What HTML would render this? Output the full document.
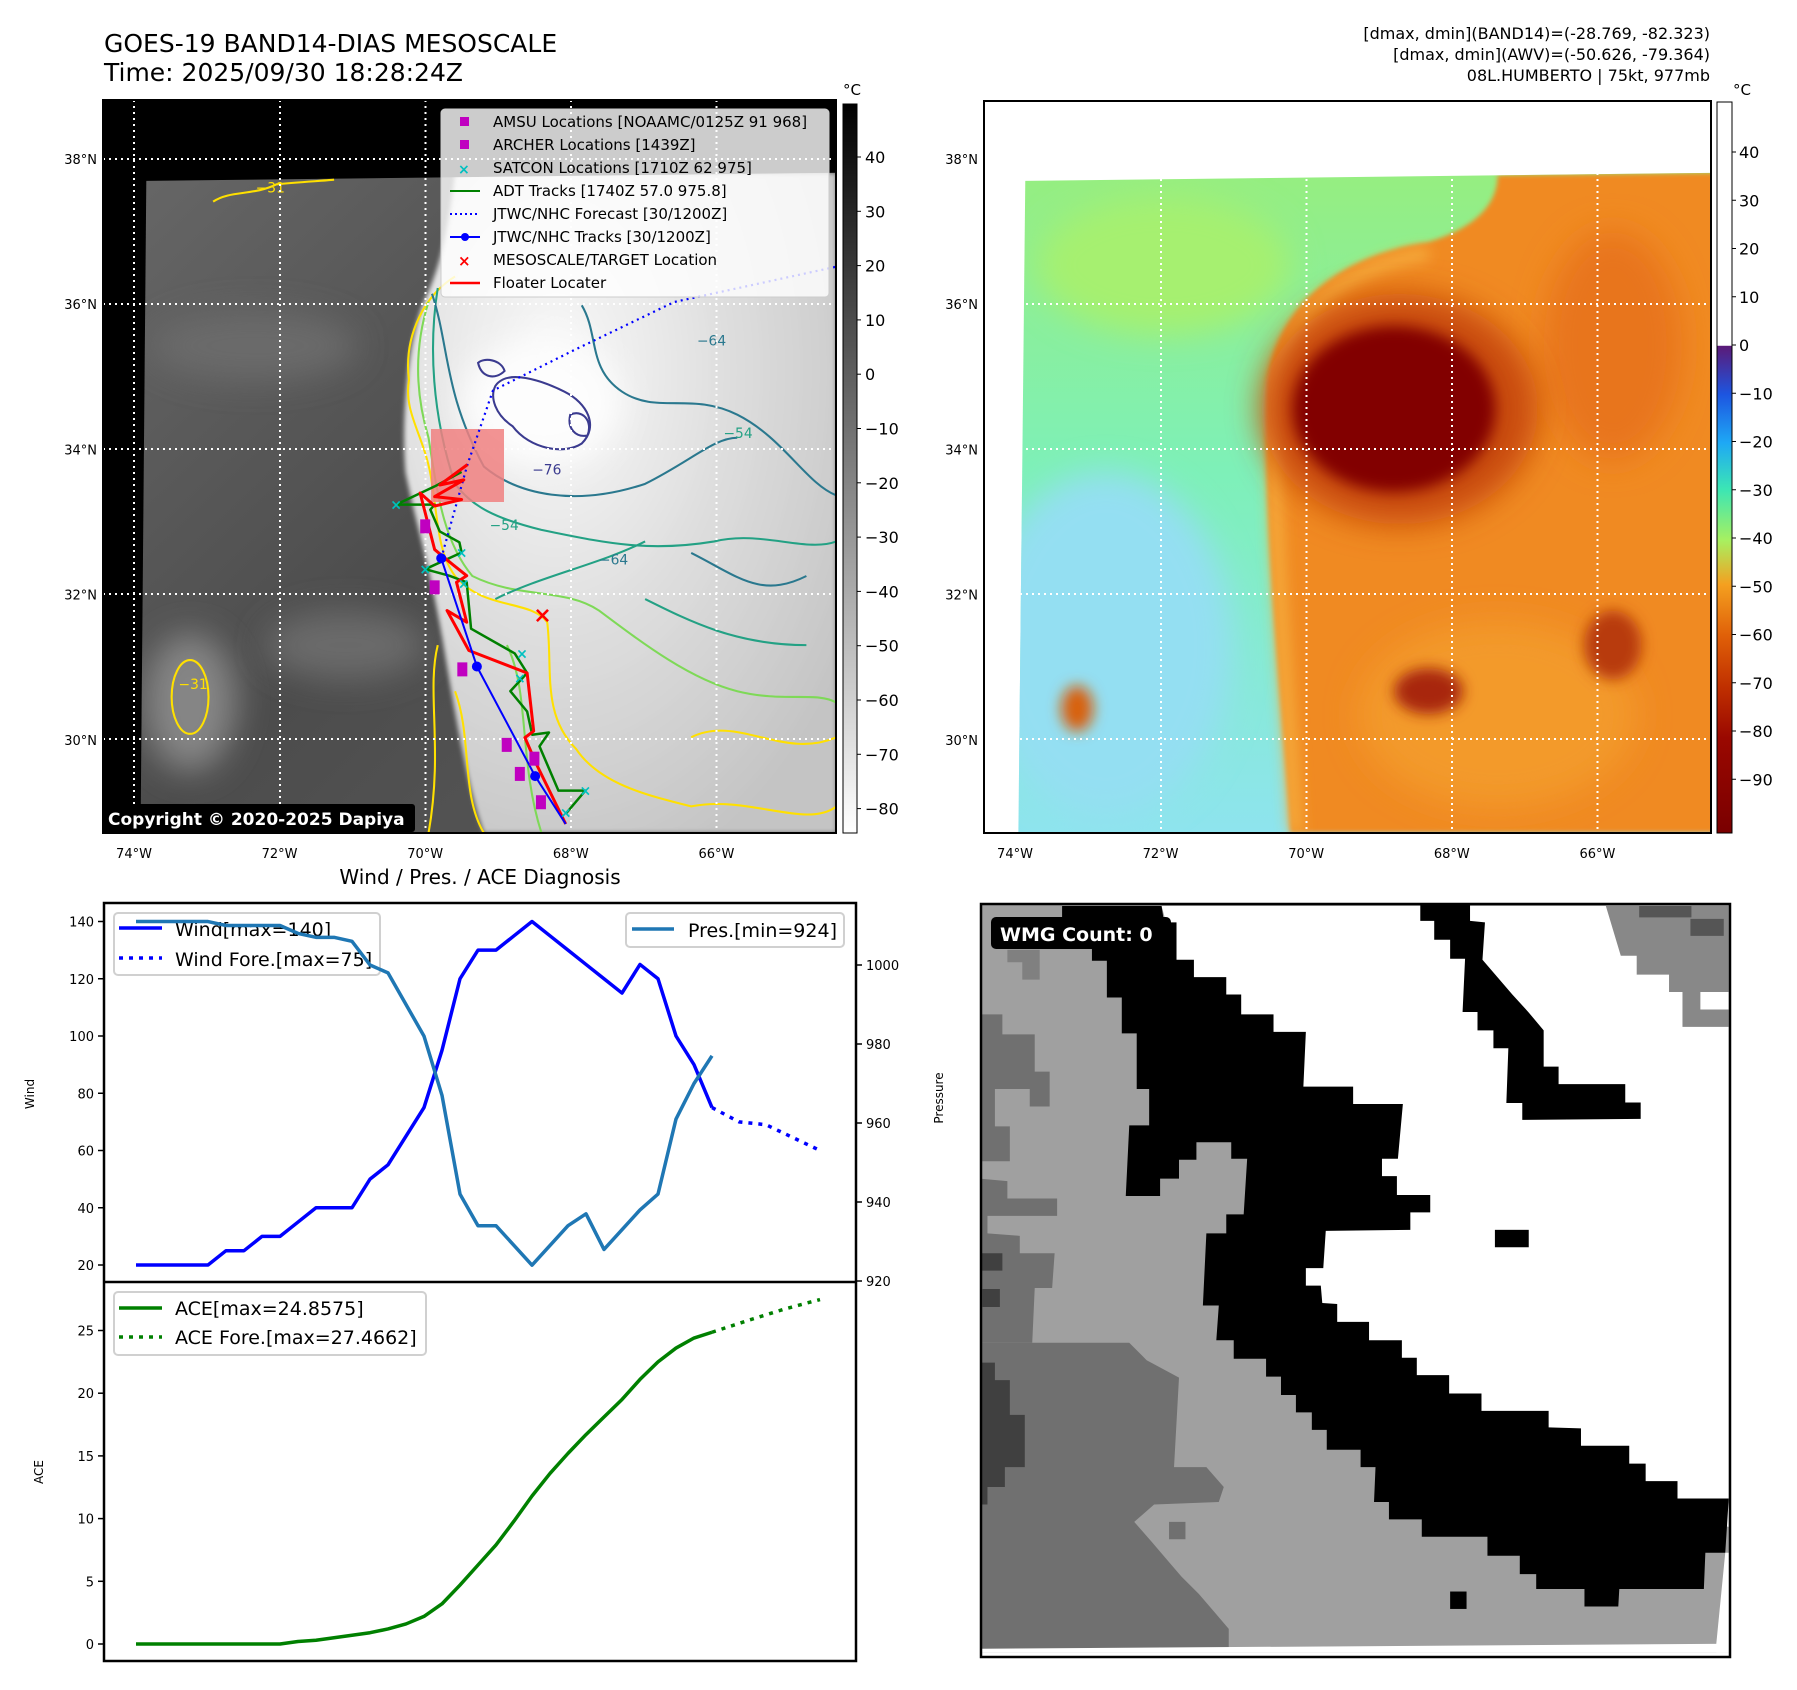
<!DOCTYPE html>
<html><head><meta charset="utf-8">
<style>
html,body{margin:0;padding:0;background:#fff;}
svg{display:block;font-family:"DejaVu Sans","Liberation Sans",sans-serif;}
</style></head>
<body>
<svg id="fig" width="1797" height="1690" viewBox="0 0 1797 1690" xmlns="http://www.w3.org/2000/svg">
<defs>
<filter id="b2" x="-50%" y="-50%" width="200%" height="200%"><feGaussianBlur stdDeviation="2"/></filter>
<filter id="b6" x="-50%" y="-50%" width="200%" height="200%"><feGaussianBlur stdDeviation="6"/></filter>
<filter id="b14" x="-50%" y="-50%" width="200%" height="200%"><feGaussianBlur stdDeviation="14"/></filter>
<linearGradient id="cbGray" x1="0" y1="0" x2="0" y2="1"><stop offset="0" stop-color="#000"/><stop offset="1" stop-color="#fff"/></linearGradient>
<linearGradient id="cbColor" x1="0" y1="0" x2="0" y2="1">
<stop offset="0" stop-color="#fff"/><stop offset="0.333" stop-color="#fff"/>
<stop offset="0.334" stop-color="#5b1a78"/><stop offset="0.40" stop-color="#1d55e0"/>
<stop offset="0.466" stop-color="#1ea8f5"/><stop offset="0.53" stop-color="#3ce6b4"/>
<stop offset="0.60" stop-color="#a8f060"/><stop offset="0.66" stop-color="#f4a020"/>
<stop offset="0.73" stop-color="#e06008"/><stop offset="0.80" stop-color="#c03000"/>
<stop offset="0.87" stop-color="#9a0800"/><stop offset="1" stop-color="#7a0000"/></linearGradient>
<linearGradient id="irL" x1="0" y1="0" x2="1" y2="1"><stop offset="0" stop-color="#666"/><stop offset="0.5" stop-color="#4c4c4c"/><stop offset="1" stop-color="#5a5a5a"/></linearGradient>
<radialGradient id="cloudG" cx="0.35" cy="0.3" r="0.8"><stop offset="0" stop-color="#fafafa"/><stop offset="0.5" stop-color="#dedede"/><stop offset="1" stop-color="#c4c4c4"/></radialGradient>
<linearGradient id="rBase" x1="0" y1="0" x2="0" y2="1"><stop offset="0" stop-color="#96ee80"/><stop offset="0.45" stop-color="#7ef0b8"/><stop offset="1" stop-color="#8ee4ee"/></linearGradient>
<clipPath id="clipL"><rect x="103" y="100" width="733" height="733"/></clipPath>
<clipPath id="clipR"><rect x="984" y="101" width="727" height="732"/></clipPath>
<clipPath id="clipW"><rect x="981" y="904" width="749" height="753"/></clipPath>
<clipPath id="imgL"><polygon points="127,157 726,150 726,723 122,723"/></clipPath>
<clipPath id="imgR"><polygon points="890,157 1489,150 1489,723 884,723"/></clipPath>
</defs>
<rect width="1797" height="1690" fill="#fff"/>

<text x="104" y="52" font-size="25">GOES-19 BAND14-DIAS MESOSCALE</text>
<text x="104" y="81" font-size="25">Time: 2025/09/30 18:28:24Z</text>
<g font-size="16" text-anchor="end">
<text x="1710" y="39">[dmax, dmin](BAND14)=(-28.769, -82.323)</text>
<text x="1710" y="60">[dmax, dmin](AWV)=(-50.626, -79.364)</text>
<text x="1710" y="81">08L.HUMBERTO | 75kt, 977mb</text>
</g>

<!-- LEFT MAP -->
<g clip-path="url(#clipL)">
<rect x="103" y="100" width="733" height="733" fill="#000"/>
<g transform="scale(1.152)">
<polygon points="127,157 726,150 726,723 122,723" fill="url(#irL)"/>
<g clip-path="url(#imgL)">
<ellipse cx="165" cy="610" rx="40" ry="60" fill="#858585" filter="url(#b14)"/>
<ellipse cx="300" cy="560" rx="70" ry="30" fill="#6a6a6a" filter="url(#b14)"/>
<ellipse cx="220" cy="300" rx="90" ry="30" fill="#6a6a6a" filter="url(#b14)"/>
<path d="M395,150 L726,150 L726,723 L420,723 C405,680 395,620 385,560 C375,500 360,450 352,410 C348,360 355,300 365,270 C372,250 385,235 395,150 Z" fill="url(#cloudG)" filter="url(#b2)"/>
<ellipse cx="470" cy="350" rx="70" ry="55" fill="#fdfdfd" filter="url(#b14)"/>
</g>
<g fill="none" stroke-width="1.8">
<path d="M395,240 C370,255 350,290 355,330 C350,360 370,380 375,420 C380,450 380,480 395,500 C420,530 460,520 475,540 C480,580 470,620 500,650 C520,680 560,690 600,700 C650,690 700,720 726,700" stroke="#ffe000"/>
<path d="M380,560 C370,600 385,650 372,723 M395,600 C410,640 400,690 420,723 M185,175 C200,165 220,170 240,160 C260,158 280,157 290,156 M600,640 C640,620 680,660 726,640" stroke="#ffe000"/>
<ellipse cx="165" cy="605" rx="16" ry="32" stroke="#ffe000"/>
<path d="M372,262 C360,300 360,340 372,380 C380,430 385,470 410,500 C450,520 490,510 520,530 C560,560 600,590 640,600 C680,610 710,600 726,610 M440,560 C460,600 450,660 470,723" stroke="#7ed957"/>
<path d="M380,250 C372,300 375,360 395,420 C410,440 430,450 470,460 C520,470 560,480 620,470 C660,460 700,480 726,470 M430,520 C470,500 520,490 560,470 M560,520 C600,540 640,560 700,560" stroke="#23a184"/>
<path d="M375,255 C390,300 385,340 420,405 C450,430 500,440 560,420 C600,400 620,380 640,380 M505,265 C520,290 510,320 540,340 C570,360 600,340 640,360 C680,380 700,420 726,430 M600,480 C640,500 660,520 700,500" stroke="#2a788e"/>
<path d="M430,335 C440,320 470,330 490,340 C510,350 520,370 505,385 C490,395 460,390 445,370 C430,360 425,345 430,335 Z M415,315 C420,310 435,312 438,322 C430,330 418,328 415,315 Z M495,360 C505,355 515,365 510,378 C500,380 492,372 495,360 Z" stroke="#3b3b8f"/>
</g>
<g font-size="12">
<text x="222" y="167" fill="#ffe000">−31</text>
<text x="155" y="598" fill="#ffe000">−31</text>
<text x="425" y="460" fill="#23a184">−54</text>
<text x="628" y="380" fill="#23a184">−54</text>
<text x="520" y="490" fill="#2a788e">−64</text>
<text x="605" y="300" fill="#2a788e">−64</text>
<text x="462" y="412" fill="#3b3b8f">−76</text>
</g>
</g>
<g stroke="#fff" stroke-width="2" stroke-dasharray="2,4">
<line x1="134" y1="100" x2="134" y2="833"/><line x1="280" y1="100" x2="280" y2="833"/><line x1="425.5" y1="100" x2="425.5" y2="833"/><line x1="571" y1="100" x2="571" y2="833"/><line x1="716.5" y1="100" x2="716.5" y2="833"/>
<line x1="103" y1="159" x2="836" y2="159"/><line x1="103" y1="304" x2="836" y2="304"/><line x1="103" y1="449" x2="836" y2="449"/><line x1="103" y1="594" x2="836" y2="594"/><line x1="103" y1="739" x2="836" y2="739"/>
</g>
<rect x="431" y="429" width="73" height="73" fill="#f08080" opacity="0.85"/>
<g id="tracks"></g>
</g>
<rect x="103" y="100" width="733" height="733" fill="none" stroke="#000" stroke-width="2"/>
<g>
<rect x="441" y="109" width="388" height="188" rx="4" fill="#fff" fill-opacity="0.8" stroke="#ccc"/>
<g font-size="15">
<rect x="460" y="117" width="9" height="9" fill="#c000c0"/><text x="493" y="127">AMSU Locations [NOAAMC/0125Z 91 968]</text>
<rect x="460" y="140" width="9" height="9" fill="#c000c0"/><text x="493" y="150">ARCHER Locations [1439Z]</text>
<text x="458" y="174" fill="#00c0c0" font-size="14" font-weight="bold">×</text><text x="493" y="173">SATCON Locations [1710Z 62 975]</text>
<line x1="450" y1="191" x2="480" y2="191" stroke="#008000" stroke-width="2"/><text x="493" y="196">ADT Tracks [1740Z 57.0 975.8]</text>
<line x1="450" y1="214" x2="480" y2="214" stroke="#0000ff" stroke-width="2" stroke-dasharray="2,3"/><text x="493" y="219">JTWC/NHC Forecast [30/1200Z]</text>
<line x1="450" y1="237" x2="480" y2="237" stroke="#0000ff" stroke-width="2"/><circle cx="465" cy="237" r="4" fill="#0000ff"/><text x="493" y="242">JTWC/NHC Tracks [30/1200Z]</text>
<text x="458" y="266" fill="#ff0000" font-size="15" font-weight="bold">×</text><text x="493" y="265">MESOSCALE/TARGET Location</text>
<line x1="450" y1="283" x2="480" y2="283" stroke="#ff0000" stroke-width="2.5"/><text x="493" y="288">Floater Locater</text>
</g></g>
<g>
<rect x="102" y="804" width="313" height="28" rx="3" fill="#000"/>
<text x="108" y="825" fill="#fff" font-size="17" font-weight="bold">Copyright © 2020-2025 Dapiya</text>
</g>
<g>
<rect x="843" y="104" width="14" height="729" fill="url(#cbGray)" stroke="#000" stroke-width="1"/>
<text x="852" y="95" font-size="15" text-anchor="middle">°C</text>
<g id="cbLticks" font-size="16"></g>
</g>

<!-- RIGHT MAP -->
<g clip-path="url(#clipR)">
<rect x="984" y="101" width="727" height="732" fill="#fff"/>
<g transform="scale(1.152)">
<polygon points="890,157 1489,150 1489,723 884,723" fill="url(#rBase)"/>
<g clip-path="url(#imgR)">
<ellipse cx="960" cy="560" rx="110" ry="150" fill="#94dff2" filter="url(#b14)"/>
<ellipse cx="1010" cy="230" rx="110" ry="60" fill="#a6f070" filter="url(#b14)"/>
<path d="M1120,723 C1112,600 1095,450 1100,330 C1110,260 1170,220 1240,210 C1290,195 1300,170 1300,152 L1489,150 L1489,723 Z" fill="#f08a20" filter="url(#b2)"/>
<path d="M1125,723 C1118,600 1102,450 1108,330 C1118,270 1175,230 1240,220" fill="none" stroke="#f6b040" stroke-width="10" filter="url(#b6)"/>
<ellipse cx="1400" cy="300" rx="60" ry="100" fill="#e8741a" filter="url(#b14)"/>
<ellipse cx="1300" cy="620" rx="120" ry="80" fill="#f39a2a" filter="url(#b14)"/>
<ellipse cx="1215" cy="355" rx="120" ry="100" fill="#c84a0a" filter="url(#b14)"/>
<ellipse cx="1210" cy="355" rx="88" ry="72" fill="#820000" filter="url(#b6)"/>
<ellipse cx="1240" cy="600" rx="30" ry="20" fill="#a82808" filter="url(#b6)"/>
<ellipse cx="1400" cy="560" rx="25" ry="30" fill="#b83a0a" filter="url(#b6)"/>
<ellipse cx="935" cy="615" rx="14" ry="20" fill="#d86010" filter="url(#b6)"/>
</g>
</g>
<g stroke="#fff" stroke-width="2" stroke-dasharray="2,4">
<line x1="1015" y1="101" x2="1015" y2="833"/><line x1="1161" y1="101" x2="1161" y2="833"/><line x1="1306.5" y1="101" x2="1306.5" y2="833"/><line x1="1452" y1="101" x2="1452" y2="833"/><line x1="1597.5" y1="101" x2="1597.5" y2="833"/>
<line x1="984" y1="159" x2="1711" y2="159"/><line x1="984" y1="304" x2="1711" y2="304"/><line x1="984" y1="449" x2="1711" y2="449"/><line x1="984" y1="594" x2="1711" y2="594"/><line x1="984" y1="739" x2="1711" y2="739"/>
</g>
</g>
<rect x="984" y="101" width="727" height="732" fill="none" stroke="#000" stroke-width="2"/>
<g>
<rect x="1717" y="102" width="15" height="731" fill="url(#cbColor)" stroke="#000" stroke-width="1"/>
<text x="1742" y="95" font-size="15" text-anchor="middle">°C</text>
<g id="cbRticks" font-size="16"></g>
</g>
<g id="mapAxisLabels" font-size="13"></g>

<!-- WMG PANEL -->
<g clip-path="url(#clipW)">
<g transform="translate(980,900) scale(0.4975)">
<rect x="0" y="0" width="1510" height="1512" fill="#a0a0a0"/>
<polygon fill="#fff" points="365,12 1505,12 1505,1260 1200,1200 900,1100 700,900 560,700 560,450 400,140"/>
<polygon fill="#888" points="1258,12 1505,12 1505,255 1412,255 1412,185 1385,185 1385,150 1320,150 1320,112 1288,112"/>
<polygon fill="#555" points="1325,12 1430,12 1430,35 1325,35"/>
<polygon fill="#555" points="1428,38 1495,38 1495,72 1428,72"/>
<polygon fill="#fff" points="1448,185 1505,185 1505,220 1448,220"/>
<polygon fill="#707070" points="0,890 240,890 300,890 335,925 400,960 390,1140 455,1140 490,1180 480,1210 350,1215 310,1250 345,1290 375,1325 405,1360 440,1395 470,1430 500,1465 500,1510 0,1510"/>
<polygon fill="#707070" points="0,230 45,230 45,270 110,270 110,345 140,345 140,415 100,415 100,380 30,380 30,455 60,455 60,525 0,525"/>
<polygon fill="#707070" points="0,560 55,565 55,600 155,600 155,635 15,635 15,670 80,675 80,710 150,710 145,780 110,780 105,890 0,890"/>
<polygon fill="#808080" points="55,100 120,100 120,160 85,160 85,125 55,125"/>
<polygon fill="#404040" points="0,710 45,710 45,745 0,745"/>
<polygon fill="#404040" points="5,782 40,782 40,818 5,818"/>
<polygon fill="#404040" points="0,930 30,930 30,965 60,965 60,1035 90,1035 90,1140 50,1140 50,1180 15,1180 15,1215 0,1215"/>
<polygon fill="#707070" points="380,1250 413,1250 413,1285 380,1285"/>
<polygon fill="#000" points="165,12 365,12 370,45 395,45 395,120 430,120 430,155 495,155 495,190 525,190 525,230 590,230 590,265 655,265 650,375 750,375 750,410 850,410 840,520 808,520 808,555 838,555 838,593 905,593 905,628 865,628 865,663 695,665 690,740 655,740 655,775 685,775 688,810 718,812 718,848 782,848 782,885 848,885 848,920 878,920 878,955 943,955 943,992 1008,992 1008,1027 1143,1027 1143,1060 1208,1062 1208,1097 1305,1097 1305,1133 1338,1133 1338,1168 1402,1168 1402,1203 1505,1203 1498,1312 1458,1312 1455,1385 1285,1385 1283,1420 1215,1420 1215,1385 1118,1385 1118,1355 1085,1355 1085,1318 1020,1318 1020,1280 888,1280 888,1245 822,1245 822,1210 792,1210 795,1140 765,1140 765,1105 697,1105 697,1065 667,1065 667,1030 635,1030 635,995 605,995 605,958 575,958 575,922 510,922 510,885 475,885 480,815 448,815 455,670 495,670 495,632 530,632 537,520 505,520 505,487 435,487 435,522 400,522 400,560 362,560 362,595 293,595 300,453 340,453 340,380 315,380 315,268 285,268 285,196 255,196 255,122 225,122 225,90 165,90"/>
<polygon fill="#000" points="885,10 985,10 985,42 1015,45 1010,120 1040,155 1070,190 1102,225 1133,262 1133,335 1163,335 1163,370 1297,370 1297,407 1328,407 1328,440 1090,442 1090,408 1058,408 1062,298 1032,298 1032,262 1000,262 1000,225 970,225 975,118 945,118 945,80 913,80 913,42 885,42"/>
<rect x="1035" y="663" width="68" height="35" fill="#000"/>
<rect x="945" y="1390" width="33" height="35" fill="#000"/>
<polygon fill="#fff" points="1498,1312 1510,1312 1510,1512 1480,1512 1480,1495"/>
<polygon fill="#fff" points="0,1505 1510,1495 1510,1512 0,1512"/>
</g>
</g>
<rect x="981" y="904" width="749" height="753" fill="none" stroke="#000" stroke-width="2.5"/>
<g>
<rect x="991" y="917" width="180" height="32" rx="5" fill="#000"/>
<text x="1000" y="941" fill="#fff" font-size="19" font-weight="bold">WMG Count: 0</text>
</g>

<text x="480" y="884" font-size="20" text-anchor="middle">Wind / Pres. / ACE Diagnosis</text>
<g id="chart"></g>
</svg>

<script>
// ===== chart data =====
const windIdx = [0,1,2,3,4,5,6,7,8,9,10,11,12,13,14,15,16,17,18,19,20,21,22,23,24,25,26,27,28,29,30,31,32];
const windVals = [20,20,20,20,20,25,25,30,30,35,40,40,40,50,55,65,75,95,120,130,130,135,140,135,130,125,120,115,125,120,100,90,75];
const windFcIdx = [32,33.5,35,38];
const windFcVals = [75,70,69,60];
const presVals = [1011,1011,1011,1011,1011,1010,1010,1010,1010,1008,1007,1007,1006,1000,998,990,982,967,942,934,934,929,924,929,934,937,928,933,938,942,961,970,977];
const aceVals = [0,0,0,0,0,0,0,0,0,0.2,0.3,0.5,0.7,0.9,1.2,1.6,2.2,3.2,4.7,6.3,7.9,9.8,11.8,13.6,15.2,16.7,18.1,19.5,21.1,22.5,23.6,24.4,24.86];
const aceFcIdx = [32,34,36,38];
const aceFcVals = [24.86,25.8,26.7,27.47];
const windTicks = [20,40,60,80,100,120,140];
const presTicks = [920,940,960,980,1000];
const aceTicks = [0,5,10,15,20,25];
// ===== map data =====
const lonTicks = [-74,-72,-70,-68,-66];
const latTicks = [38,36,34,32,30];
const cbLTicks = [40,30,20,10,0,-10,-20,-30,-40,-50,-60,-70,-80];
const cbRTicks = [40,30,20,10,0,-10,-20,-30,-40,-50,-60,-70,-80,-90];
const floaterLon = [-68.07,-68.47,-68.63,-68.51,-68.60,-69.40,-69.70,-69.43,-69.57,-69.43,-69.63,-69.87,-70.07,-69.87,-69.50,-69.87,-69.47,-69.80,-69.42];
const floaterLat = [28.84,29.66,30.03,30.12,30.92,31.23,31.78,31.62,32.17,32.26,32.42,32.62,33.40,33.22,33.31,33.35,33.58,33.51,33.79];
const adtLon = [-68.07,-67.80,-68.17,-68.43,-68.30,-68.53,-68.60,-68.83,-68.60,-68.77,-69.37,-69.43,-69.67,-70.00,-69.50,-69.53,-69.80,-69.93,-69.87,-70.40,-69.87,-69.50];
const adtLat = [28.98,29.30,29.30,29.91,30.10,30.07,30.39,30.67,30.92,31.19,31.53,32.17,32.26,32.35,32.58,32.72,32.87,33.17,33.24,33.24,33.49,33.69];
const bestLon = [-69.78,-69.29,-68.49,-68.07];
const bestLat = [32.50,31.01,29.50,28.84];
const fcLon = [-69.78,-69.42,-69.07,-67.97,-66.58,-64.2];
const fcLat = [32.50,33.79,34.81,35.36,36.03,36.55];
const amsuLon = [-69.87,-69.49,-68.88,-68.70,-68.41,-68.50,-70.0];
const amsuLat = [32.10,30.97,29.93,29.53,29.14,29.74,32.94];
const satconLon = [-70.40,-70.0,-69.50,-69.47,-68.67,-68.70,-67.80,-68.07];
const satconLat = [33.24,32.35,32.58,32.15,31.19,30.85,29.30,29.0];
const targetLon = [-68.39];
const targetLat = [31.71];

const NS = 'http://www.w3.org/2000/svg';
function mk(tag, attrs, parent){const e=document.createElementNS(NS,tag);for(const k in attrs)e.setAttribute(k,attrs[k]);parent.appendChild(e);return e;}

const lonX = lon => 134 + (lon + 74) * 72.8;
const latY = lat => 159 + (38 - lat) * 72.6;
const tracks = document.getElementById('tracks');
function poly(lons, lats, stroke, w, dash, name){
  const p = mk('polyline',{points:lons.map((l,i)=>lonX(l)+','+latY(lats[i])).join(' '),fill:'none',stroke:stroke,'stroke-width':w,'stroke-linejoin':'round'},tracks);
  if(dash) p.setAttribute('stroke-dasharray',dash);
  
  
}
poly(adtLon, adtLat, '#008000', 2.5, null, 'adt-track');
poly(fcLon, fcLat, '#0000ff', 2.2, '2,4', 'forecast-track');
poly(floaterLon, floaterLat, '#ff0000', 3, null, 'floater-track');
poly(bestLon, bestLat, '#0000ff', 2, null, 'best-track');
bestLon.slice(0,3).forEach((l,i)=>{
  const c = mk('circle',{cx:lonX(l),cy:latY(bestLat[i]),r:5,fill:'#0000ff'},tracks);
  
  
});
amsuLon.forEach((l,i)=>{
  const r = mk('rect',{x:lonX(l)-5,y:latY(amsuLat[i])-7,width:10,height:14,fill:'#c000c0'},tracks);
  
  
});
satconLon.forEach((l,i)=>{
  const t = mk('text',{x:lonX(l),y:latY(satconLat[i])+5,fill:'#00c0c0','font-size':14,'font-weight':'bold','text-anchor':'middle'},tracks);
  t.textContent='×';
  
  
});
targetLon.forEach((l,i)=>{
  const t = mk('text',{x:lonX(l),y:latY(targetLat[i])+7,fill:'#ff0000','font-size':22,'font-weight':'bold','text-anchor':'middle'},tracks);
  t.textContent='×';
  
  
});

const mal = document.getElementById('mapAxisLabels');
[0,881].forEach(off=>{
  lonTicks.forEach(l=>{
    const t = mk('text',{x:lonX(l)+off,y:858,'text-anchor':'middle'},mal);
    t.textContent = Math.abs(l)+'°W';
    
    
  });
  latTicks.forEach(l=>{
    const t = mk('text',{x:97+off,y:latY(l)+5,'text-anchor':'end'},mal);
    t.textContent = l+'°N';
    
    
  });
});
const fmt = v => v<0 ? '−'+Math.abs(v) : ''+v;
const cbL = document.getElementById('cbLticks');
cbLTicks.forEach(v=>{
  const y = 157 + (40 - v) * 5.43;
  mk('line',{x1:857,y1:y,x2:861,y2:y,stroke:'#000'},cbL);
  const t = mk('text',{x:865,y:y+6},cbL); t.textContent=fmt(v);
  
  
});
const cbR = document.getElementById('cbRticks');
cbRTicks.forEach(v=>{
  const y = 345 - v * 4.825;
  mk('line',{x1:1732,y1:y,x2:1736,y2:y,stroke:'#000'},cbR);
  const t = mk('text',{x:1739,y:y+6},cbR); t.textContent=fmt(v);
  
  
});

// ===== chart =====
const ch = document.getElementById('chart');
const xI = i => 136 + 18 * i;
const yW = v => 921.5 + (140 - v) * 2.8625;
const yP = p => 965 + (1000 - p) * 3.95;
const yA = a => 1644 - a * 12.54;
const L=104,R=856,T=903,M=1282,B=1661;
mk('rect',{x:L,y:T,width:R-L,height:B-T,fill:'#fff'},ch);
function line(xs, ys, stroke, w, dash, name){
  const p = mk('polyline',{points:xs.map((x,i)=>x+','+ys[i]).join(' '),fill:'none',stroke:stroke,'stroke-width':w,'stroke-linejoin':'round'},ch);
  if(dash) p.setAttribute('stroke-dasharray',dash);
  
  
}
const wl = mk('g',{},ch);


mk('rect',{x:114,y:913,width:266,height:62,rx:4,fill:'#fff','fill-opacity':0.8,stroke:'#d0d0d0','stroke-width':2},wl);
mk('line',{x1:119,y1:928,x2:162,y2:928,stroke:'#0000ff','stroke-width':3.5},wl);
mk('line',{x1:119,y1:958,x2:162,y2:958,stroke:'#0000ff','stroke-width':3.5,'stroke-dasharray':'4,6'},wl);
let t = mk('text',{x:175,y:936,'font-size':19},wl); t.textContent='Wind[max=140]';
t = mk('text',{x:175,y:966,'font-size':19},wl); t.textContent='Wind Fore.[max=75]';

line(windIdx.map(xI), windVals.map(yW), '#0000ff', 3.5, null, 'wind-line');
line(windFcIdx.map(xI), windFcVals.map(yW), '#0000ff', 3.5, '4,6', 'wind-forecast-line');
line(windIdx.map(xI), presVals.map(yP), '#1f77b4', 3.5, null, 'pressure-line');
line(windIdx.map(xI), aceVals.map(yA), '#008000', 3.5, null, 'ace-line');
line(aceFcIdx.map(xI), aceFcVals.map(yA), '#008000', 3.5, '4,6', 'ace-forecast-line');

const pl = mk('g',{},ch);


mk('rect',{x:626,y:913,width:218,height:34,rx:4,fill:'#fff','fill-opacity':0.8,stroke:'#d0d0d0','stroke-width':2},pl);
mk('line',{x1:632,y1:929,x2:674,y2:929,stroke:'#1f77b4','stroke-width':3.5},pl);
t = mk('text',{x:688,y:937,'font-size':19},pl); t.textContent='Pres.[min=924]';

const al = mk('g',{},ch);


mk('rect',{x:114,y:1292,width:312,height:63,rx:4,fill:'#fff','fill-opacity':0.8,stroke:'#d0d0d0','stroke-width':2},al);
mk('line',{x1:119,y1:1308,x2:162,y2:1308,stroke:'#008000','stroke-width':3.5},al);
mk('line',{x1:119,y1:1337,x2:162,y2:1337,stroke:'#008000','stroke-width':3.5,'stroke-dasharray':'4,6'},al);
t = mk('text',{x:175,y:1315,'font-size':19},al); t.textContent='ACE[max=24.8575]';
t = mk('text',{x:175,y:1344,'font-size':19},al); t.textContent='ACE Fore.[max=27.4662]';

mk('rect',{x:L,y:T,width:R-L,height:B-T,fill:'none',stroke:'#000','stroke-width':2.5},ch);
mk('line',{x1:L,y1:M,x2:R,y2:M,stroke:'#000','stroke-width':2.5},ch);
const tk = mk('g',{'font-size':13},ch);
windTicks.forEach(v=>{
  mk('line',{x1:L-6,y1:yW(v),x2:L,y2:yW(v),stroke:'#000','stroke-width':1.5},tk);
  const e = mk('text',{x:L-10,y:yW(v)+5,'text-anchor':'end'},tk); e.textContent=v;
  
  
});
presTicks.forEach(v=>{
  mk('line',{x1:R,y1:yP(v),x2:R+6,y2:yP(v),stroke:'#000','stroke-width':1.5},tk);
  const e = mk('text',{x:R+10,y:yP(v)+5},tk); e.textContent=v;
  
  
});
aceTicks.forEach(v=>{
  mk('line',{x1:L-6,y1:yA(v),x2:L,y2:yA(v),stroke:'#000','stroke-width':1.5},tk);
  const e = mk('text',{x:L-10,y:yA(v)+5,'text-anchor':'end'},tk); e.textContent=v;
  
  
});
function vlabel(txt,x,y,name){
  const e = mk('text',{x:x,y:y,'font-size':12,'text-anchor':'middle',transform:'rotate(-90 '+x+' '+y+')'},ch);
  e.textContent=txt;
  
  
}
vlabel('Wind',34,1094,'wind-axis-title');
vlabel('Pressure',943,1098,'pressure-axis-title');
vlabel('ACE',43,1472,'ace-axis-title');
</script>
</body></html>
